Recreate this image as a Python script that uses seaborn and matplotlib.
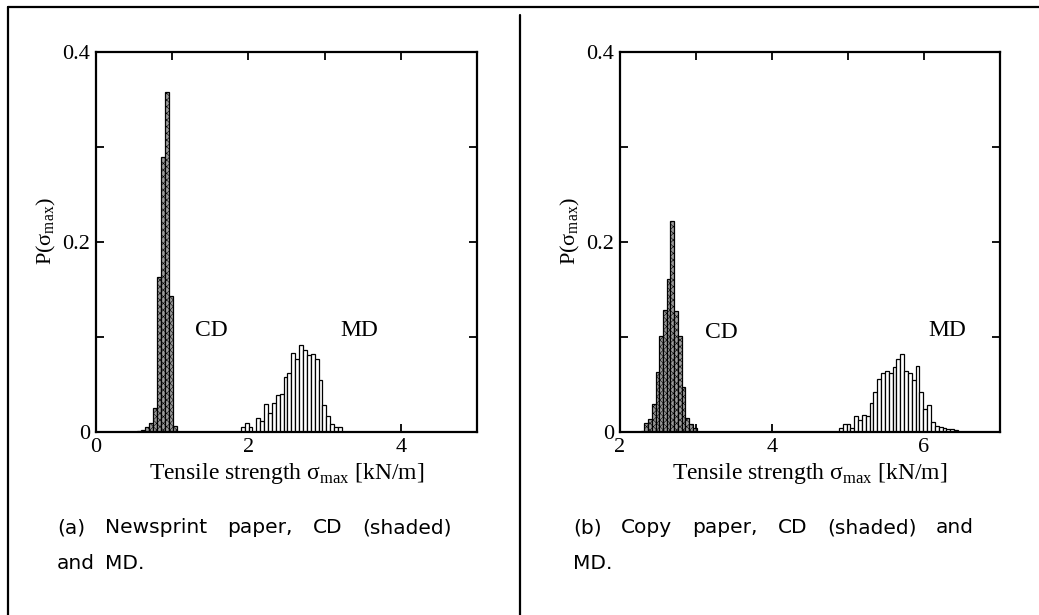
import numpy as np
import pandas as pd
import matplotlib
matplotlib.use('Agg')
import matplotlib.pyplot as plt
import seaborn as sns
from matplotlib.lines import Line2D
from matplotlib.ticker import MultipleLocator, FuncFormatter

# (a) Newsprint paper: bin start, bin width and probability per bin
news_cd_start, news_cd_width = 0.538, 0.053
news_cd_p = [0.001, 0.002, 0.005, 0.009, 0.025, 0.163, 0.290, 0.358, 0.143, 0.006]
news_md_start, news_md_width = 1.90, 0.051
news_md_p = [0.005, 0.010, 0.005, 0.0, 0.015, 0.012, 0.029, 0.020, 0.031, 0.039,
             0.040, 0.058, 0.062, 0.083, 0.077, 0.092, 0.086, 0.081, 0.082, 0.077,
             0.055, 0.028, 0.017, 0.008, 0.005, 0.005]

# (b) Copy paper
copy_cd_start, copy_cd_width = 2.272, 0.049
copy_cd_p = [0.001, 0.009, 0.014, 0.030, 0.063, 0.101, 0.128, 0.161, 0.222, 0.127,
             0.101, 0.047, 0.015, 0.008, 0.004]
copy_md_start, copy_md_width = 4.88, 0.0505
copy_md_p = [0.004, 0.008, 0.008, 0.004, 0.017, 0.013, 0.018, 0.017, 0.031, 0.042,
             0.056, 0.062, 0.0645, 0.062, 0.068, 0.0765, 0.082, 0.0645, 0.062, 0.055,
             0.0695, 0.042, 0.024, 0.028, 0.011, 0.006, 0.005, 0.004, 0.003, 0.003,
             0.002]

panels = [
    dict(cd=(news_cd_start, news_cd_width, news_cd_p), md=(news_md_start, news_md_width, news_md_p),
         xlim=(0, 5), cd_xy=(1.52, 0.107), md_xy=(3.45, 0.107),
         caption=[['(a)', 'Newsprint', 'paper,', 'CD', '(shaded)'], ['and', 'MD.']]),
    dict(cd=(copy_cd_start, copy_cd_width, copy_cd_p), md=(copy_md_start, copy_md_width, copy_md_p),
         xlim=(2, 7), cd_xy=(3.33, 0.105), md_xy=(6.30, 0.107),
         caption=[['(b)', 'Copy', 'paper,', 'CD', '(shaded)', 'and'], ['MD.']]),
]

sns.set_theme(style='ticks')
plt.rcParams['font.family'] = ['Liberation Serif', 'DejaVu Serif']
plt.rcParams['mathtext.fontset'] = 'custom'
plt.rcParams['mathtext.rm'] = 'Liberation Serif'
plt.rcParams['hatch.color'] = '#4a4a4a'
plt.rcParams['hatch.linewidth'] = 0.4
for k in ['text.color', 'axes.labelcolor', 'xtick.color', 'ytick.color']:
    plt.rcParams[k] = 'black'

W, H = 1039, 615
fig = plt.figure(figsize=(W / 100, H / 100), dpi=100)
fig.patch.set_facecolor('white')

axes_px = [(96, 52, 477, 432), (620, 52, 1000, 432)]   # left, top, right, bottom
caption_px = [(57, 452, 533, 569), (573, 974, 533, 569)]


def hist(ax, spec, shaded):
    start, width, p = spec
    df = pd.DataFrame({'p': p})
    df['x'] = start + width * (np.arange(len(df)) + 0.5)
    n0 = len(ax.patches)
    sns.histplot(data=df, x='x', weights='p', binwidth=width,
                 binrange=(start, start + width * len(df)), stat='count', ax=ax,
                 color='#9c9c9c' if shaded else 'white', alpha=1,
                 edgecolor='black', linewidth=0.9)
    if shaded:
        for bar in ax.patches[n0:]:
            bar.set_hatch('xxxxx')


def justified(words, x0, x1, y, last=False, **kw):
    r = fig.canvas.get_renderer()
    texts = [fig.text(0, 1 - y / H, w, ha='left', va='baseline', **kw) for w in words]
    widths = [t.get_window_extent(r).width for t in texts]
    if last or len(words) == 1:
        gap = r.points_to_pixels(kw.get('fontsize', 10)) * 0.5
    else:
        gap = (x1 - x0 - sum(widths)) / (len(words) - 1)
    x = x0
    for t, w in zip(texts, widths):
        t.set_x(x / W)
        x += w + gap


for spec, (l, t, r_, b), cap in zip(panels, axes_px, caption_px):
    ax = fig.add_axes([l / W, 1 - b / H, (r_ - l) / W, (b - t) / H])
    hist(ax, spec['cd'], True)
    hist(ax, spec['md'], False)
    ax.set_xlim(*spec['xlim'])
    ax.set_ylim(0, 0.4)
    ax.xaxis.set_major_locator(MultipleLocator(2))
    ax.xaxis.set_minor_locator(MultipleLocator(1))
    ax.yaxis.set_major_locator(MultipleLocator(0.2))
    ax.yaxis.set_minor_locator(MultipleLocator(0.1))
    fmt = FuncFormatter(lambda v, _: f'{v:g}')
    ax.xaxis.set_major_formatter(fmt)
    ax.yaxis.set_major_formatter(fmt)
    ax.tick_params(which='both', direction='in', top=True, right=True,
                   length=6, width=1.3, color='black', labelsize=16, pad=4)
    for s in ax.spines.values():
        s.set_visible(True)
        s.set_linewidth(1.6)
        s.set_color('black')
    ax.set_facecolor('white')
    ax.set_xlabel('Tensile strength σ$_{\\rm max}$ [kN/m]', fontsize=17, labelpad=3)
    ax.set_ylabel('P(σ$_{\\rm max}$)', fontsize=16, labelpad=2)
    ax.yaxis.set_label_coords(-0.1, 0.53)
    ax.text(*spec['cd_xy'], 'CD', fontsize=17, ha='center', va='center')
    ax.text(*spec['md_xy'], 'MD', fontsize=17, ha='center', va='center')

    x0, x1, y1, y2 = cap
    justified(spec['caption'][0], x0, x1, y1, family='DejaVu Sans', fontsize=14.5)
    justified(spec['caption'][1], x0, x1, y2, last=True, family='DejaVu Sans', fontsize=14.5)

# page frame: top rule, left rule, divider between the two sub-figures
frame = dict(transform=fig.transFigure, color='black', lw=1.6)
fig.add_artist(Line2D([8 / W, 1], [1 - 7 / H, 1 - 7 / H], **frame))
fig.add_artist(Line2D([8 / W, 8 / W], [0, 1 - 7 / H], **frame))
fig.add_artist(Line2D([520 / W, 520 / W], [0, 1 - 15 / H], **frame))

fig.savefig('out.png', dpi=100)
